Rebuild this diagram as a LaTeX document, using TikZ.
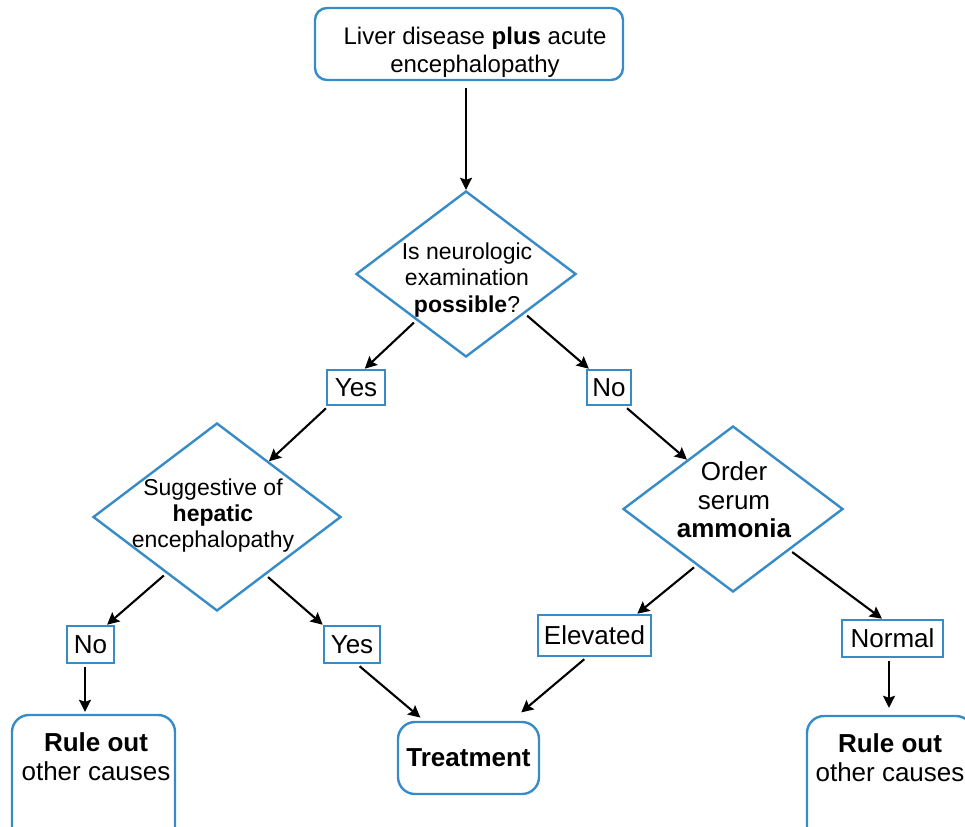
\documentclass[tikz,border=0pt]{standalone}
\usepackage{fontspec}
\setmainfont{Liberation Sans}
\usetikzlibrary{arrows.meta,shapes.geometric}
\definecolor{boxblue}{RGB}{55,140,199}

\begin{document}
\begin{tikzpicture}[x=1pt,y=-1pt,
		startbox/.style={draw=boxblue,line width=2.4pt,rounded corners=12pt,minimum width=308pt,minimum height=72pt},
		endbox/.style={draw=boxblue,line width=2.4pt,rounded corners=17pt,font=\fontsize{26}{29}\selectfont\bfseries},
		decision/.style={diamond,draw=boxblue,line width=2.4pt,inner sep=0pt},
		answer/.style={draw=boxblue,line width=2.6pt,inner sep=0pt,font=\fontsize{26}{29}\selectfont},
		txt/.style={align=center,inner sep=0pt},
		arr/.style={line width=2.1pt,-{Stealth[length=12pt,width=12pt,inset=2pt]},shorten <=3pt}]
		\useasboundingbox (0,0) rectangle (965,826);
		% boxes and decisions
		\node[startbox] (start) at (469,44) {};
		\node[txt,font=\fontsize{24}{28}\selectfont] (startT) at (475,52) {Liver disease \textbf{plus} acute\\encephalopathy};
		\node[decision,minimum width=220pt,minimum height=166pt] (exam) at (466,274) {};
		\node[txt,font=\fontsize{23}{26.5}\selectfont] (examT) at (467,280) {Is neurologic\\examination\\\textbf{possible}?};
		\node[answer,minimum width=58pt,minimum height=35pt] (yesA) at (356,387.5) {Yes};
		\node[answer,minimum width=44pt,minimum height=35pt] (noA) at (609,387.5) {No};
		\node[decision,minimum width=248pt,minimum height=188pt] (hep) at (217,517) {};
		\node[txt,font=\fontsize{23}{26}\selectfont] (hepT) at (213,516) {Suggestive of\\\textbf{hepatic}\\encephalopathy};
		\node[decision,minimum width=220pt,minimum height=166pt] (amm) at (733,509) {};
		\node[txt,font=\fontsize{26}{28.5}\selectfont] (ammT) at (734,500) {Order\\serum\\\textbf{ammonia}};
		\node[answer,minimum width=47pt,minimum height=37pt] (noB) at (90.5,644.5) {No};
		\node[answer,minimum width=56pt,minimum height=37pt] (yesB) at (352,644.5) {Yes};
		\node[answer,minimum width=113pt,minimum height=41pt] (elev) at (594.5,635.5) {Elevated};
		\node[answer,minimum width=101pt,minimum height=37pt] (norm) at (892.5,638.5) {Normal};
		\node[endbox,minimum width=163pt,minimum height=130pt] (ruleL) at (93.5,780) {};
		\node[txt,font=\fontsize{26}{29}\selectfont] (ruleLT) at (96,757) {\textbf{Rule out}\\other causes};
		\node[endbox,minimum width=141pt,minimum height=72pt] (treat) at (468.5,758) {Treatment};
		\node[endbox,minimum width=166pt,minimum height=130pt] (ruleR) at (890,781) {};
		\node[txt,font=\fontsize{26}{29}\selectfont] (ruleRT) at (890,758) {\textbf{Rule out}\\other causes};
		% connectors
		\draw[arr,shorten <=7pt] (start.south -| exam.north) -- (exam.north);
		\draw[arr] (exam.223) -- (yesA.65);
		\draw[arr] (exam.326) -- (noA.137);
		\draw[arr] (yesA.214) -- (hep.47);
		\draw[arr] (noA.310) -- (amm.133);
		\draw[arr] (hep.228) -- (noB.50);
		\draw[arr] (hep.310) -- (yesB.146);
		\draw[arr,shorten >=2pt] ([xshift=-5.5pt]noB.south) -- ([xshift=-5.5pt]noB.south |- ruleL.north);
		\draw[arr,shorten >=5pt] (yesB.285) -- (treat.140);
		\draw[arr] (amm.237) -- (elev.27);
		\draw[arr] (amm.324) -- (norm.118);
		\draw[arr,shorten >=13pt] (elev.250) -- (treat.41);
		\draw[arr,shorten >=7pt] ([xshift=-3.5pt]norm.south) -- ([xshift=-3.5pt]norm.south |- ruleR.north);
	\end{tikzpicture}
\end{document}
